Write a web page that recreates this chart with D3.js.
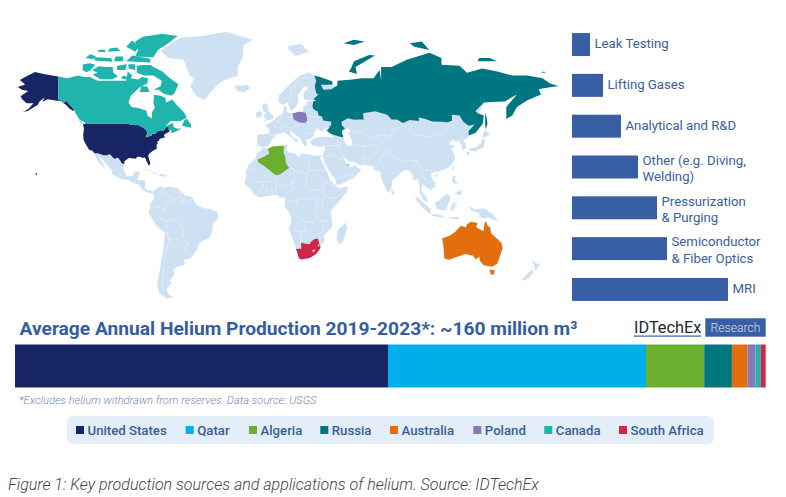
<!DOCTYPE html>
<html>
<head>
<meta charset="utf-8">
<title>Helium production and applications</title>
<script src="https://cdn.jsdelivr.net/npm/d3@7"></script>
<style>
  html, body { margin: 0; padding: 0; background: #fff; }
  svg { display: block; }
  text { font-family: Roboto, sans-serif; }
</style>
</head>
<body>
<div id="chart"></div>
<script>
// applications, share of the total in %
var appNames = [["Leak Testing"], ["Lifting Gases"], ["Analytical and R&D"], ["Other (e.g. Diving,", "Welding)"],
  ["Pressurization", "& Purging"], ["Semiconductor", "& Fiber Optics"], ["MRI"]];
var appValues = [3.6, 6.2, 9.8, 13.2, 17, 19, 31.2];

// production, million m3 per year
var producers = ["United States", "Qatar", "Algeria", "Russia", "Australia", "Poland", "Canada", "South Africa"];
var production = [79.5, 55, 12.4, 5.9, 3.3, 1.7, 1.15, 1.05];
var producerColors = ["#182565", "#00aeea", "#6ab02e", "#007681", "#e56e0c", "#8878b8", "#1fb5ad", "#cf2647"];

// map outlines as flat lon,lat lists
var usaLand = [
  [-124.7,48.4,-123,49,-95.2,49,-94.6,48.7,-92,48.3,-89.5,48,-88.4,48.3,-84.9,46.9,-84.1,46.5,-82.5,45.3,-82.1,43.6,-83.1,42.2,-82.7,41.7,-79,42.8,-79.2,43.5,-76.8,43.6,-75,45,-71.5,45,-70.3,46.2,-69.2,47.45,-67.8,47.1,-67.8,45.7,-67,44.9,-69,44,-70.7,43.1,-70.9,42.3,-70,41.7,-71.5,41.4,-74,40.7,-74.2,39.6,-75.4,39.4,-75.1,38.4,-76,37,-75.6,35.3,-77,34.6,-78.5,33.9,-81,32,-81.4,30.5,-80.1,27,-80.4,25.2,-81.2,25.3,-81.8,26.5,-82.7,28,-83,29.1,-84,30.1,-85.3,29.7,-86.5,30.4,-89,30.3,-89.4,29.2,-91,29.3,-93.8,29.7,-95,29.2,-97.2,27.7,-97.2,25.95,-99.1,26.4,-99.5,27.5,-101.4,29.8,-102.7,29.7,-103.2,29,-104.5,29.6,-106.5,31.75,-108.2,31.8,-108.2,31.33,-111,31.33,-114.8,32.5,-117.1,32.5,-118.4,34,-120.6,34.6,-122.4,37.2,-124.3,40.3,-124.5,43,-124,46.3],
  [-141,69.6,-141,60.3,-137.5,58.9,-135.5,59.7,-133.5,58,-130,55.3,-131.5,55.2,-134,56.5,-136,58,-139.5,59.6,-144,60,-148,60.5,-151.5,59.3,-150,61.2,-153.5,59.5,-154.5,58,-157,57,-161,55.2,-164.5,54.6,-160.5,56.3,-157.5,58.7,-162,58.7,-165,60.5,-166,61.7,-161,64,-165,64.5,-168,65.6,-163,66.6,-166.5,68.3,-163,69.5,-156.5,71.3,-150,70.5],
  [-156.1,20.8,-155,19.6,-155.7,19,-156,19.8]
];
var canadaLand = [
  [-141,69.6,-135,69,-128,70,-124,69.5,-120,69.5,-115,68,-108,68,-104,68,-98,68,-96,68,-95,71.5,-92,70,-93,69,-88,68.5,-85.5,69.5,-81.5,69,-82,67,-87,65.5,-93,62,-94.5,59,-92.5,57,-88,56.5,-82.5,55.2,-82,52.9,-79,51.5,-79,54.5,-77,56.5,-78,58.8,-77.5,62.4,-73,62,-70,61,-69.5,59,-65.5,60.3,-62,57.5,-58,54.8,-55.8,52,-60,50.2,-66.5,50.2,-70,47.5,-65,49.2,-64.5,47,-61,46,-60.5,46.9,-60,46,-63.5,44.6,-66,43.7,-66,45.2,-67.8,45.7,-67.8,47.1,-69.2,47.45,-70.3,46.2,-71.5,45,-75,45,-76.8,43.6,-79.2,43.5,-79,42.8,-82.7,41.7,-83.1,42.2,-82.1,43.6,-82.5,45.3,-84.1,46.5,-84.9,46.9,-88.4,48.3,-89.5,48,-92,48.3,-94.6,48.7,-95.2,49,-123,49,-123.2,49.3,-127,51,-130,54.5,-130,55.3,-133.5,58,-135.5,59.7,-137.5,58.9,-141,60.3],
  [-61.5,66.5,-64,63,-66,62,-71,62.8,-74.5,64.5,-78,64.5,-73,66,-72.5,68,-78,70,-84,70,-89,71,-89,73.5,-85,73.7,-80,73.7,-77,72.8,-72,71.5,-67,69,-62,67],
  [-117,69.9,-113,68.6,-105,68.6,-101.5,69.7,-104.5,71,-105,73,-110,73,-114,73.3,-118.5,72,-115,71,-118,70.5],
  [-125,72,-122.5,71.2,-119.5,72,-116.5,73.8,-120,74.3,-124.5,74],
  [-90,76.5,-78,76.3,-75,78.5,-68,80.5,-62,82.5,-72,83.1,-85,82.3,-90,81,-88,78.5],
  [-96,75,-80,74.6,-80,75.8,-92,76.8],
  [-96,79.5,-90,78,-87,79.5,-92,81.3],
  [-117,75.2,-105,74.8,-106,76,-117,76.3],
  [-123,76,-118,75.6,-116,76.6,-120,77.2],
  [-104,75,-98,75,-98,76.5,-103,76.5],
  [-108,78,-100,78.2,-102,79.3,-107,79],
  [-115,78,-110,77.8,-110,78.6,-114,78.6],
  [-102,72,-96.5,72,-95.5,74,-102,73.5],
  [-94.5,72.5,-90,72,-90,74,-94.5,74],
  [-99.5,69,-96,68.5,-95,69.5,-98,70],
  [-59,47.8,-53,46.8,-53,48.5,-56,51.5,-57.5,50.5],
  [-87,63.5,-80.5,63.5,-82,65.8,-86,66],
  [-128.3,50.7,-123.5,48.4,-125,48.8,-125.5,50]
];
var russiaLand = [
  [30,60,28,59.5,27.5,57.5,28,56,31,54.8,31.5,53,34,52.3,34.5,50.5,40,49.8,39.8,47.9,38.2,47.1,39,47,37,45.3,38,44.5,40,43.4,43,42.6,46.5,41.8,48,41.8,47.5,43,47,45,49,46.4,47,48,46.8,49.8,51,51.6,55,50.8,58,51,61.5,51,61,54,69,55,73.5,54,77,53.3,80,51,83.5,51,87.5,49.2,92,50.7,98,50.2,98,52,102,51.4,107,50,113,49.8,117,49.6,120,50.3,120,53.3,125,53,127.5,49.8,131,47.8,135,48.4,131,45,131,43,131.5,42.8,135.5,44,140.5,49,141,53,137,54,135.5,55,141,59,150,59.4,155,59.5,163,62.5,156,57,156,51.2,160,53,163,57,170,60,179,62.5,177.5,64.7,180,65,190.5,66,185,67,180,69,170,70,160,70,150,71.5,140,72.5,130,71,125,73.5,113,73.8,113,76,105,77.7,90,75.5,80,73,73,73,73,68,72,72,68,69,60,69,54,68.5,44,68,44,66.2,40,64.7,34.8,64.5,33,66.5,41,66.5,40.5,67.8,33,69.4,28.7,70,30,68,29,66,30,63,31.5,62.5,28,60.5],
  [51.5,71.5,57,70.6,56,73,69,76.8,65,77,55,75,53,72.5],
  [48,80.5,55,80,62,81,55,81.5],
  [95,79.5,105,78.5,100,81,92,80.5],
  [137,75,150,75,145,76,138,76],
  [142,54.3,143,52,143.5,49,142.5,46,142,48,142,52],
  [179,71,182,71,181,71.5]
];
var algeriaLand = [[-2,35.1,1,36.5,8.6,36.9,8.3,33,9.5,30.2,9.9,26.5,12,23.5,5.8,19.5,3.2,19,-4.8,25,-8.7,27.3,-8.7,28.8,-3.6,30.9,-1.2,32.2]];
var polandLand = [[14.2,53.9,18.5,54.8,22.8,54.4,23.7,52.5,24,50.5,22.7,49.2,19,49.4,15,51,14.6,52.5]];
var australiaLand = [
  [113.5,-22,114.2,-26,115,-34.3,118,-35,124,-33,129,-31.6,134,-32.7,135.8,-34.8,138,-33,138.5,-35.5,141,-38.2,146.5,-39,150,-37.3,151.5,-33.5,153.5,-28.5,153,-25,149.5,-22,146,-19,145.3,-15,143.5,-14,142.5,-10.8,141.5,-13,140.8,-17.5,137.5,-15.8,136,-15,136.9,-12.2,132.5,-11.3,130,-13,129,-15,126,-14,122,-18,119,-20,114.5,-21.8],
  [144.7,-40.7,148.3,-40.9,148,-43,146,-43.6]
];
var southAfricaLand = [[16.5,-28.6,20,-28.4,20,-24.8,23,-25.3,25.5,-25.7,27,-23.6,29.4,-22.2,31.3,-22.4,32,-25.9,32.9,-26.9,32.4,-28.6,30,-31.5,25.7,-34,20,-34.8,18.4,-34,17.2,-30]];
var qatarLand = [[51.2,26.1,51.6,25.6,51.5,24.7,50.8,25]];
var otherLand = [
  [-73,78.2,-68,76,-58,75.5,-54,70,-51,69,-53.5,66,-50,62,-44,60,-42,62,-37,65.6,-32,68,-22,70,-22,73,-19,76,-18,80,-12,81.5,-30,83.6,-45,82.5,-60,82,-66,80.5],
  [-117.1,32.5,-114.8,32.5,-111,31.33,-108.2,31.33,-108.2,31.8,-106.5,31.75,-104.5,29.6,-103.2,29,-102.7,29.7,-101.4,29.8,-99.5,27.5,-99.1,26.4,-97.2,25.95,-97.8,22.4,-96,19,-94.5,18.2,-91.5,18.6,-90.5,21,-87,21.5,-87.8,18,-88.8,15.9,-84,15.8,-83.2,15,-83.7,11,-82.5,9.3,-80,9.2,-77.5,8.7,-77.9,7.2,-80.5,7.3,-82.8,8.2,-85.7,10,-87.5,13,-91,13.9,-94,16,-97,15.9,-101.5,17.5,-105.5,20,-105.5,22,-109,26,-112.5,29.5,-114.7,31.7,-112,27,-109.8,23,-112,24.8,-115,28],
  [-77.5,8.7,-75.5,10.8,-72,12,-71.5,10.8,-68,11.5,-62,10.7,-60,8.5,-57,6,-52,4.8,-50,0.5,-48,-1,-44,-2.5,-40,-3,-35.2,-5.5,-35,-9,-38.5,-13,-39,-17.5,-41,-22,-45,-23.5,-48.5,-26,-48.7,-28.5,-53,-33.8,-56,-35,-58.3,-34.2,-57,-36.5,-57.5,-38,-62,-39,-65,-41,-63.7,-42.5,-65.5,-45,-67.5,-46.5,-65.8,-47.5,-69,-51,-68.3,-53,-65.2,-54.8,-69,-55.4,-74,-53,-75.5,-49,-74.5,-44,-73.5,-40,-71.5,-30,-70.3,-18.4,-76.3,-13.8,-81.3,-5,-80,-2.5,-80,1,-77.5,3.5,-77.9,7.2],
  [-5.9,35.8,-2,35.1,1,36.5,9.8,37.3,11,37,10.2,34.3,11.5,33.1,15.5,32.3,19,30.3,20,32.7,25,31.7,29,31,32.5,31.2,34.3,31.2,32.5,29.9,35.5,24,37.2,21,39,16,43.3,12,45,10.5,51.2,11.9,50,8,47,4,42,-1.5,39.3,-5,40.5,-10.5,40.5,-15,35,-20,35.5,-24,32.8,-26,32.8,-28.5,30,-31.5,25.7,-34,20,-34.8,18.4,-34,16.5,-28.5,14.5,-22.5,11.8,-16,13.7,-10.5,12.3,-6,9,-1,9.7,3.5,8.5,4.5,5.5,4.5,4.5,6.2,1.5,6,-4,5.2,-7.5,4.5,-11,6.5,-14,10.5,-16.7,12.5,-17.5,14.7,-16.2,19,-17,21,-14.5,26,-10,29.5,-9.5,32.5,-6.5,34.2],
  [25.7,71.1,29.5,69.5,40,66,60,67,100,72,140,70,170,66,145,62,138,55,134,47,131.5,42.8,129.5,41,127.5,39.8,129.4,37,129,35.2,126.5,34.5,126.5,37.5,125,38,125,39.7,121.5,39,122,40.5,118,39,119,37.3,122.5,37,119.5,35,121.8,31.5,122,29,119.5,25.5,116,22.9,113.5,22.2,110.5,21.2,109.5,21.5,106,20,106,18.5,109,14,109,11.5,105,8.8,105,10.5,103,11,100.8,13.5,99.5,11,100.5,7.5,103.5,4.5,104.2,1.4,101,2.8,98.5,8,98.5,12,97.5,16.5,94.5,16,94,19,92,21.5,90.5,22.5,87,21.5,85,19.5,80.3,15.5,80,12,79,9,77.5,8,76,10.5,73,17,72.8,21,69,22,67,25,61.5,25.2,57.5,25.7,56.5,27,52,27.5,48.5,30,48,29.5,50,26.5,51.2,26,51.5,25,51.5,24.2,54,24,56.3,26,56.5,24.5,59.8,22.5,55,17.5,52,16,45,12.8,43.3,12.8,42.5,16.5,39,21,35,28,34.3,31.2,35.9,35.5,36,36.8,32,36.1,28,36.7,26.3,38.5,26.3,40,29,41.2,35,42,41.5,41.5,38,44.5,37,45.3,39,47,35,46,33.5,44.5,31,46.5,29,45,28,42,26,40.8,23,40.3,24,38,23,36.5,21,38,19.5,41,15,44,12.3,45.5,14,42,18.3,40,16.5,38.5,15.8,40,12,42.5,8.8,44.4,3.3,43.2,0,39.5,-0.5,38,-2,36.7,-5.5,36,-9,37,-9,43,-1.5,43.5,-1,46,-4.5,48.3,-1.5,48.7,1.5,50.5,4,52,8,54,8.3,57,10.5,57.5,10.5,54.5,14.2,53.9,18.5,54.8,21,55,21.5,57.5,24,58,23.5,59.3,30,60,23,60,21.5,61,21.5,63,25,65.5,22,65.8,17.5,62,18.5,60,16.5,57,14.3,55.5,13,55.5,11,59,8,58,5,59,5,62,14,67.5,19,70],
  [141,41.3,142,39.5,140.8,35.7,137,34.6,135.5,33.5,132,34,131,34.5,133,35.5,136,36,137.5,37.3,139.5,38.5,140,40.5],
  [140,41.5,141.5,45.4,145.3,43.5,143,42],
  [130,33.5,132,33,131,31.2,130,31.5],
  [-5.5,50,1.4,51.2,1.7,52.7,0,53.5,-1.8,55.5,-2,57.5,-3.5,58.6,-5,58.6,-6.2,56.8,-5,55,-3,54,-4.5,53.3,-5,51.7,-3,51.4],
  [-10,52,-6.2,52.2,-6,54,-7.5,55.3,-10,54.2],
  [-24,65.5,-22,63.9,-18,63.4,-13.6,65,-16,66.5,-20,66,-22.5,66.4],
  [11,79,16,76.7,25,78,20,80.3,12,79.8],
  [49.3,-12,50.5,-15.5,47.5,-24.8,45,-25.5,43.4,-22.5,44.3,-16.5],
  [80,9.7,81.9,7.5,80.5,6,79.8,7.5],
  [95.3,5.5,98,4,103.5,-1,106,-3,105.8,-5.8,104.5,-5.8,100.5,-2,97,2],
  [105.3,-6.5,111,-6.5,114.5,-7.7,114.5,-8.7,108,-7.8],
  [109,1.5,111.5,2.6,116.5,7,119,5,117.8,1,116.3,-3.5,114.5,-4,110.2,-3,109,0],
  [119.5,-5.5,119,-2.5,120.5,1,125,1.5,121,0,123,-1,121,-2,122.5,-5,120.5,-3],
  [131,-0.8,135,-3.3,141,-2.6,146,-5.5,148,-8,150.8,-10.5,147,-10,143.5,-8.5,142,-9.2,138,-8.3,138,-5.5,133,-4,132,-2.8],
  [120.5,18.5,122.3,18.4,122,16,124,13,120.6,14,120,16],
  [122,7,125.5,9.7,126.5,7.5,125,5.8],
  [121.5,25.3,121,22,120,23],
  [108.7,19.3,110.5,20.1,110.5,18.6,109,18.2],
  [-85,21.9,-82,23.1,-77,20.7,-74.2,20.2,-77.5,19.9,-78.5,21,-82,22.4],
  [-74.4,18.5,-73,19.9,-68.5,18.7,-71,18],
  [172.8,-34.5,175.5,-36.8,178.5,-37.7,175,-41.5,174.8,-39.5],
  [172.8,-40.5,174.3,-41.7,171,-45,168,-46.6,166.5,-45.8],
  [116,-8.4,125,-8.3,124,-10.2,119,-9]
];
// enclaves and inland water painted over the filled countries
var lesothoLand = [[27.2,-29.5,29,-28.8,29.3,-29.8,28,-30.5]];
var swazilandLand = [[31,-26,32,-26,32,-27,31,-27]];
var caspianSea = [[47,45,51,46.8,53,45,51,44,53.5,40,54,37,50,37,49,39,47.5,43]];
var borderLines = [
  [-51.6,4,-54,2.3,-58,1.5,-60,5,-64,4,-64,1.5,-67,1.5,-70,0.5,-70,-4.2,-74,-7.5,-73,-9.5,-70,-11,-65,-10,-60,-13.7,-58,-17,-58,-22,-54.5,-25.5,-57.5,-30,-53.5,-33],
  [-69,-18,-67.5,-23,-69.5,-30,-71,-40,-72,-50,-68.5,-52.5],
  [-80,-3.5,-75.2,-1,-70,-4.2],
  [-72,12,-72.5,7.5,-67,6.2,-67,1.5],
  [-69,-11,-69.5,-17.5,-67.5,-23,-62.5,-22,-58,-19.5],
  [-62.5,-22,-58,-27,-54.5,-25.5],
  [-60,8.3,-60,5],[-57,6,-58,1.5],
  [25,31.7,25,20,24,19.5,22.5,11,24,9,34,10],
  [25,22,36.8,22],
  [-12,15,-5,15,3.2,15,3.2,19],
  [-8.7,27.3,-12,23.5,-17,21],
  [12,23.5,15,23,15.5,17,13.5,13.5,3.5,11.5,3.2,15],
  [15,23,24,19.5],
  [3,6.4,3.5,11.5],[13.5,13.5,14.5,11,8.5,4.6],
  [-3,5,-2.8,11],[1,6,0.5,11],
  [34,10,36,14.5,43,11.5],[34,10,35,5,42,4,48,8],
  [34,4,34,-1,39.3,-4.7],[30,-1,34,-1],[30,-1,30,-8,34,-11,40.5,-10.5],
  [12.2,-6,17,-7,22,-11,28,-12,30,-8],[18,3.5,30,3.5,30,-1],[9,2,16,2,18,3.5],
  [11,-4,14,-4.5,16,-2,18,3.5],
  [11.8,-17.2,25,-17.8],[22,-11,22,-17],[20,-18,20,-28.4],[25,-17.8,29.4,-22.2],
  [34,-11,35,-17,32,-19,32,-26],
  [14.5,13,15.5,17],[-8,10,-8,5],[-5,10,-5,15],
  [87.5,49.2,91,45.5,97,42.7,105,41.7,112,43.5,117,46.5,120,50.3],
  [53,42,56,45,61,44,66,41,71,42.5,80,42.5,80.3,45,85,47,87.5,49.2],
  [61.5,25.2,61,31,61,36.5],[54,37.5,61,36.5,66,37.3,71,37],
  [61,29.5,66,29.5,70,33,71,37],[68.5,23.7,71,25,74.5,32,78,35],
  [78,35,81,30.2,88,27.8,92,28,97,28],[71,37,74,39,80,42.5],
  [92.5,21,94,24,97,28],[97,28,98,24,101,21],[101,21,100,18,105,14.5],[102,22.5,107,21.5],[105,14.5,107,14,107,19],
  [48.5,30,46,33,44.8,37.2],[35,29.3,39,32,47,29,48,29.5],[43,16.7,52,19,55,20,52,16],
  [36,36.8,44.8,37.2,43.7,41],[39,32,41,34.5,42,37],[44.8,37.2,48,39],
  [-1.5,43.4,3,42.4],[2.5,51,6,49.5,8,49,7.5,47.5,7,44],[7.5,47.5,13.7,46.5],
  [14.6,50.9,14.2,53.9],[6,51,7,53.5],[13.7,46.5,17,48,22,48,28,45.5],[22.5,44,28.5,43.7],
  [24,50.5,28,48,30,46],[12,60,14,65,20.5,69],[20.5,69,28.7,69.5],[23.7,52.5,31,52],[22.8,54.4,28,56]
];

var width = 786, height = 497;
var barColor = "#385ea3", titleColor = "#365d9f";

var svg = d3.select("#chart").append("svg").attr("width", width).attr("height", height);
svg.append("rect").attr("width", width).attr("height", height).attr("fill", "#fff");

// ---- map, Miller cylindrical through plain linear scales ----
function miller(lat) {
  return 1.25 * Math.log(Math.tan(Math.PI / 4 + 0.4 * lat * Math.PI / 180));
}
var lonScale = d3.scaleLinear().domain([-180, 180]).range([-0.5, 542.5]);
var latScale = d3.scaleLinear().domain([-1, 1]).range([291.4, 117.4]);
var mapPath = d3.geoPath(d3.geoTransform({
  point: function(lon, lat) { this.stream.point(lonScale(lon), latScale(miller(lat))); }
}));

function pairsOf(flat) {
  var out = [];
  for (var i = 0; i < flat.length; i += 2) out.push([flat[i], flat[i + 1]]);
  return out;
}
function drawLand(rings, color) {
  svg.append("g").selectAll("path").data(rings).enter().append("path")
    .attr("d", function(r) {
      var ring = pairsOf(r);
      ring.push(ring[0]);
      return mapPath({type: "Polygon", coordinates: [ring]});
    })
    .attr("fill", color);
}

drawLand(otherLand, "#cde1f3");
svg.append("g").selectAll("path").data(borderLines).enter().append("path")
  .attr("d", function(l) { return mapPath({type: "LineString", coordinates: pairsOf(l)}); })
  .attr("fill", "none").attr("stroke", "#fff").attr("stroke-width", 0.4).attr("stroke-opacity", 0.8);
drawLand(usaLand, producerColors[0]);
drawLand(qatarLand, producerColors[1]);
drawLand(algeriaLand, producerColors[2]);
drawLand(russiaLand, producerColors[3]);
drawLand(australiaLand, producerColors[4]);
drawLand(polandLand, producerColors[5]);
drawLand(canadaLand, producerColors[6]);
drawLand(southAfricaLand, producerColors[7]);
drawLand(lesothoLand, "#cde1f3");
drawLand(swazilandLand, "#cde1f3");
drawLand(caspianSea, "#fff");

// ---- application bars ----
var appX = d3.scaleLinear().domain([0, 100]).range([572, 1072]);
var appY = d3.scaleBand().domain(d3.range(appValues.length)).range([24.5, 309.5]).paddingInner(0.437).paddingOuter(0.21);

var appRows = svg.append("g").selectAll("g").data(appValues).enter().append("g");
appRows.append("rect")
  .attr("x", appX(0))
  .attr("y", function(d, i) { return appY(i); })
  .attr("width", function(d) { return appX(d) - appX(0); })
  .attr("height", appY.bandwidth())
  .attr("fill", barColor);
appRows.each(function(d, i) {
  var lines = appNames[i];
  var mid = appY(i) + appY.bandwidth() / 2;
  var first = lines.length == 1 ? mid + 3.7 : mid - 2.2;
  d3.select(this).selectAll("text").data(lines).enter().append("text")
    .attr("x", appX(d) + 4.5)
    .attr("y", function(t, j) { return first + j * 16.2; })
    .attr("font-size", 13.2)
    .attr("fill", barColor)
    .text(function(t) { return t; });
});

// ---- title and logo ----
svg.append("text").attr("x", 19.5).attr("y", 335)
  .attr("font-size", 19.2).attr("font-weight", 700).attr("fill", titleColor)
  .text("Average Annual Helium Production 2019-2023*: ~160 million m³");

svg.append("text").attr("x", 634).attr("y", 333)
  .attr("font-size", 16.3).attr("fill", "#23262d").text("IDTechEx");
svg.append("rect").attr("x", 634).attr("y", 335.5).attr("width", 67).attr("height", 1.2).attr("fill", barColor);
svg.append("rect").attr("x", 705.3).attr("y", 318.3).attr("width", 60.4).attr("height", 18.4).attr("fill", barColor);
svg.append("text").attr("x", 735.5).attr("y", 332).attr("text-anchor", "middle")
  .attr("font-size", 12.2).attr("font-weight", 300).attr("fill", "#d5deef").text("Research");

// ---- stacked production bar ----
var stackX = d3.scaleLinear().domain([0, d3.sum(production)]).range([15, 765.7]);
var offset = 0;
var stacked = production.map(function(v) { var s = {from: offset, to: offset + v}; offset += v; return s; });
svg.append("g").selectAll("rect").data(stacked).enter().append("rect")
  .attr("x", function(d) { return stackX(d.from); })
  .attr("y", 344.5)
  .attr("width", function(d) { return stackX(d.to) - stackX(d.from); })
  .attr("height", 43)
  .attr("fill", function(d, i) { return producerColors[i]; });

svg.append("text").attr("x", 19).attr("y", 404)
  .attr("font-size", 11.2).attr("font-style", "italic").attr("font-weight", 300).attr("fill", "#6f88b6")
  .text("*Excludes helium withdrawn from reserves. Data source: USGS");

// ---- legend ----
var legendMarkerX = [76, 185.7, 249, 320.3, 390, 473.3, 544.3, 619];
svg.append("rect").attr("x", 67).attr("y", 416).attr("width", 647).attr("height", 28).attr("rx", 6).attr("fill", "#e4eef8");
var legendItems = svg.append("g").selectAll("g").data(producers).enter().append("g")
  .attr("transform", function(d, i) { return "translate(" + legendMarkerX[i] + ",426)"; });
legendItems.append("rect").attr("width", 8).attr("height", 8)
  .attr("fill", function(d, i) { return producerColors[i]; });
legendItems.append("text").attr("x", 11.5).attr("y", 8.6)
  .attr("font-size", 13.2).attr("font-weight", 500).attr("fill", titleColor)
  .text(function(d) { return d; });

// ---- caption ----
svg.append("text").attr("x", 8).attr("y", 490)
  .attr("font-size", 16).attr("font-style", "italic").attr("font-weight", 300).attr("fill", "#444")
  .text("Figure 1: Key production sources and applications of helium. Source: IDTechEx");
</script>
</body>
</html>
